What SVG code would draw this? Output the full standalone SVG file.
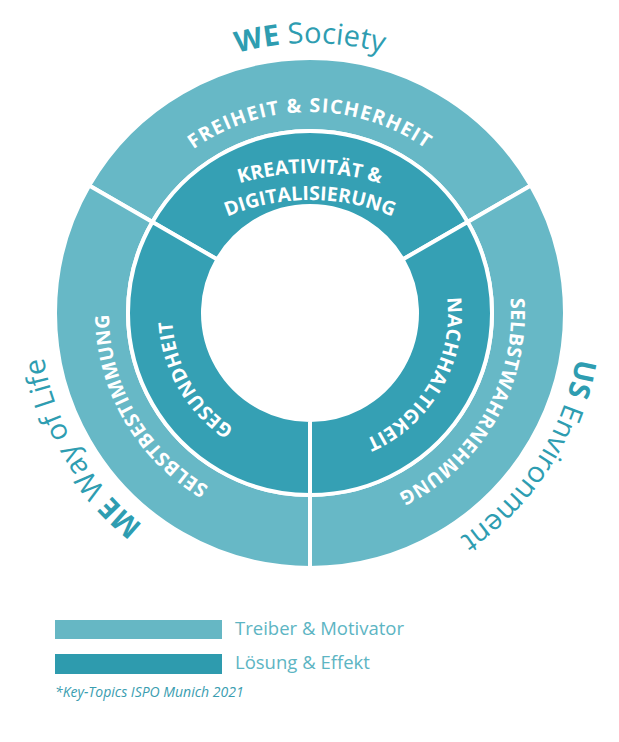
<svg xmlns="http://www.w3.org/2000/svg" width="619" height="742" viewBox="0 0 619 742">
<style>
.light{fill:#67B8C6;stroke:#fff;stroke-width:4;stroke-linejoin:miter}
.dark{fill:#35A0B4;stroke:#fff;stroke-width:4;stroke-linejoin:miter}
.lbl{font-family:"Open Sans","Noto Sans",sans-serif;font-weight:700;font-size:19.5px;fill:#fff;letter-spacing:0.4px}
.wide{letter-spacing:1.3px}
.tight{letter-spacing:0px}
.ttl{font-family:"Open Sans","Noto Sans",sans-serif;font-size:29px;fill:#2E9DB1}
.b{font-weight:700}
.leg{font-family:"Open Sans","Noto Sans",sans-serif;font-size:18.5px;fill:#5DB5C3}
.note{font-family:"Open Sans","Noto Sans",sans-serif;font-size:14px;font-style:italic;fill:#3A9DB0}
</style>
<defs>
<path id="pTop" d="M 135.93 212.5 A 201 201 0 0 1 484.07 212.5"/>
<path id="pLeft" d="M 310 514 A 201 201 0 0 1 135.93 212.5"/>
<path id="pRight" d="M 484.07 212.5 A 201 201 0 0 1 310 514"/>
<path id="piLeft" d="M 310 451 A 138 138 0 0 1 190.49 244"/>
<path id="piRight" d="M 429.51 244 A 138 138 0 0 1 310 451"/>
<path id="piTop1" d="M 189 205.4 A 242 242 0 0 1 431 205.4"/>
<path id="piTop2" d="M 202.5 228.8 A 215 215 0 0 1 417.5 228.8"/>
<path id="tTop" d="M 76.17 178 A 270 270 0 0 1 543.83 178"/>
<path id="tLeft" d="M 310 583 A 270 270 0 0 1 76.17 178"/>
<path id="tRight" d="M 543.83 178 A 270 270 0 0 1 310 583"/>
</defs>

<g id="outer-top">
<path class="light" d="M 89.16 185.5 A 255 255 0 0 1 530.84 185.5 L 467.62 222 A 182 182 0 0 0 152.38 222 Z"/>
<text class="lbl wide"><textPath href="#pTop" startOffset="50%" text-anchor="middle">FREIHEIT &amp; SICHERHEIT</textPath></text>
</g>
<g id="outer-right">
<path class="light" d="M 530.84 185.5 A 255 255 0 0 1 310 568 L 310 495 A 182 182 0 0 0 467.62 222 Z"/>
<text class="lbl"><textPath href="#pRight" startOffset="50%" text-anchor="middle">SELBSTWAHRNEHMUNG</textPath></text>
</g>
<g id="outer-left">
<path class="light" d="M 310 568 A 255 255 0 0 1 89.16 185.5 L 152.38 222 A 182 182 0 0 0 310 495 Z"/>
<text class="lbl"><textPath href="#pLeft" startOffset="50%" text-anchor="middle">SELBSTBESTIMMUNG</textPath></text>
</g>
<g id="inner-top">
<path class="dark" d="M 152.38 222 A 182 182 0 0 1 467.62 222 L 402.66 259.5 A 107 107 0 0 0 217.34 259.5 Z"/>
<text class="lbl tight"><textPath href="#piTop1" startOffset="50%" text-anchor="middle">KREATIVITÄT &amp;</textPath></text>
<text class="lbl tight"><textPath href="#piTop2" startOffset="50%" text-anchor="middle">DIGITALISIERUNG</textPath></text>
</g>
<g id="inner-right">
<path class="dark" d="M 467.62 222 A 182 182 0 0 1 310 495 L 310 420 A 107 107 0 0 0 402.66 259.5 Z"/>
<text class="lbl"><textPath href="#piRight" startOffset="50%" text-anchor="middle">NACHHALTIGKEIT</textPath></text>
</g>
<g id="inner-left">
<path class="dark" d="M 310 495 A 182 182 0 0 1 152.38 222 L 217.34 259.5 A 107 107 0 0 0 310 420 Z"/>
<text class="lbl"><textPath href="#piLeft" startOffset="50%" text-anchor="middle">GESUNDHEIT</textPath></text>
</g>

<g id="title-we">
<text class="ttl"><textPath href="#tTop" startOffset="50%" text-anchor="middle"><tspan class="b">WE</tspan> Society</textPath></text>
</g>
<g id="title-me">
<text class="ttl"><textPath href="#tLeft" startOffset="49.5%" text-anchor="middle"><tspan class="b">ME</tspan> Way of Life</textPath></text>
</g>
<g id="title-us">
<text class="ttl"><textPath href="#tRight" startOffset="52.5%" text-anchor="middle"><tspan class="b">US</tspan> Environment</textPath></text>
</g>

<g id="legend">
<rect x="55" y="620" width="167" height="19" fill="#66B7C4"/>
<rect x="55" y="654" width="167" height="20" fill="#2E9BAE"/>
<text class="leg" x="235" y="635">Treiber &amp; Motivator</text>
<text class="leg" x="235" y="669">Lösung &amp; Effekt</text>
<text class="note" x="55" y="697">*Key-Topics ISPO Munich 2021</text>
</g>
</svg>
